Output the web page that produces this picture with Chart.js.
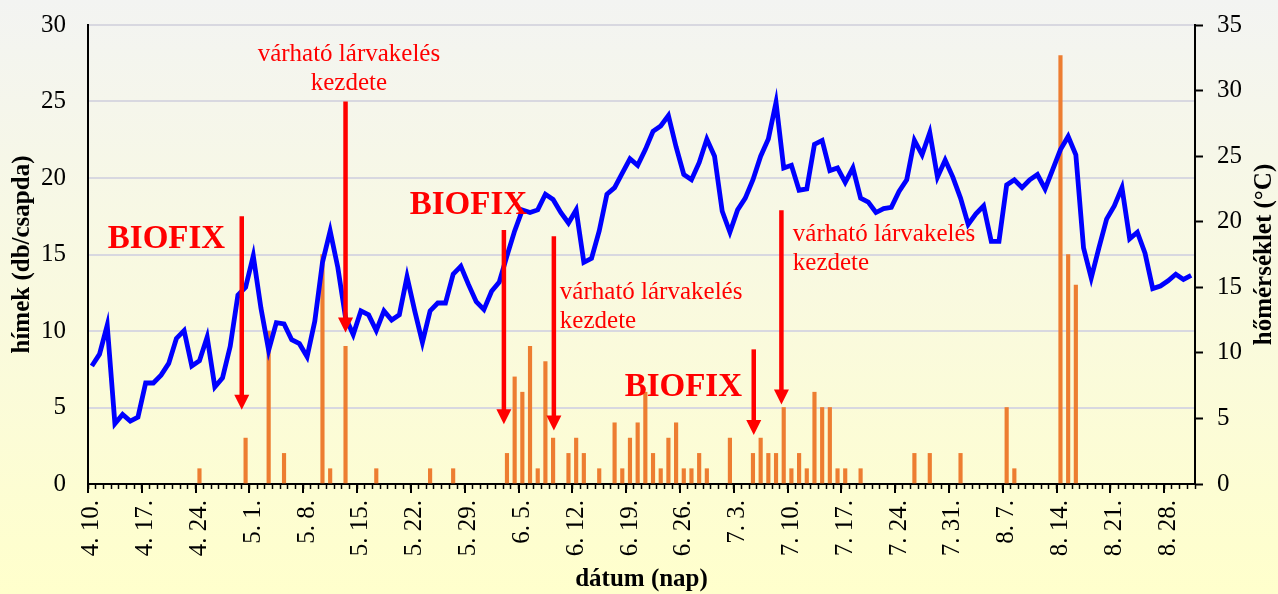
<!DOCTYPE html>
<html>
<head>
<meta charset="utf-8">
<script src="https://cdn.jsdelivr.net/npm/chart.js@4.4.1/dist/chart.umd.min.js"></script>
<style>
html,body{margin:0;padding:0;background:#FAFAE2;overflow:hidden}
#wrap{width:1278px;height:594px;position:relative}
</style>
</head>
<body>
<div id="wrap"><canvas id="c" width="1278" height="594"></canvas></div>
<script>
// ---- categories: daily dates 4.10 – 8.31 ----
const months = [4, 5, 6, 7, 8];
const firstDay = [10, 1, 1, 1, 1];
const lastDay = [30, 31, 30, 31, 31];
const dates = [];
months.forEach((m, k) => { for (let d = firstDay[k]; d <= lastDay[k]; d++) dates.push(m + '. ' + d + '.'); });
const labelEvery = 7;

// ---- male moth catches (left axis, db/csapda) ----
const catchDays = ['4. 24.','4. 30.','5. 3.','5. 5.','5. 10.','5. 11.','5. 13.','5. 17.','5. 24.','5. 27.',
  '6. 3.','6. 4.','6. 5.','6. 6.','6. 7.','6. 8.','6. 9.','6. 11.','6. 12.','6. 13.','6. 15.','6. 17.','6. 18.',
  '6. 19.','6. 20.','6. 21.','6. 22.','6. 23.','6. 24.','6. 25.','6. 26.','6. 27.','6. 28.','6. 29.','7. 2.',
  '7. 5.','7. 6.','7. 7.','7. 8.','7. 9.','7. 10.','7. 11.','7. 12.','7. 13.','7. 14.','7. 15.','7. 16.','7. 17.',
  '7. 19.','7. 26.','7. 28.','8. 1.','8. 7.','8. 8.','8. 14.','8. 15.','8. 16.'];
const catchCounts = [1,3,10,2,15,1,9,1,1,1,
  2,7,6,9,1,8,3,2,3,2,1,4,1,
  3,4,6,2,1,3,4,1,1,2,1,3,
  2,3,2,2,5,1,2,1,6,5,5,1,1,
  1,2,2,2,5,1,28,15,13];

// ---- daily mean temperature (right axis, °C) ----
const temperature = [
  9.0, 9.9, 12.1, 4.6, 5.3, 4.8, 5.1, 7.7, 7.7, 8.3, 9.2, 11.1, 11.7, 9.0, 9.4, 11.2, 7.4, 8.1, 10.5, 14.4,
  15.0, 17.4, 13.4, 10.2, 12.3, 12.2, 11.0, 10.7, 9.7, 12.4, 16.9, 19.3, 16.5, 12.7, 11.4, 13.2, 12.9, 11.7, 13.2, 12.5,
  12.9, 15.8, 13.2, 10.8, 13.2, 13.8, 13.8, 16.0, 16.6, 15.2, 13.9, 13.3, 14.7, 15.4, 17.4, 19.3, 20.9, 20.7, 20.9, 22.1,
  21.7, 20.7, 19.9, 20.9, 16.9, 17.2, 19.3, 22.1, 22.6, 23.7, 24.8, 24.3, 25.5, 26.9, 27.3, 28.1, 25.7, 23.6, 23.2, 24.5,
  26.3, 25.0, 20.8, 19.2, 20.9, 21.8, 23.2, 25.0, 26.3, 29.1, 24.1, 24.3, 22.4, 22.5, 25.9, 26.2, 23.9, 24.1, 23.0, 24.1,
  21.8, 21.5, 20.7, 21.0, 21.1, 22.3, 23.2, 26.2, 25.1, 26.8, 23.4, 24.7, 23.4, 21.8, 19.8, 20.6, 21.2, 18.5, 18.5, 22.8,
  23.2, 22.6, 23.2, 23.6, 22.5, 24.0, 25.5, 26.5, 25.1, 18.0, 15.7, 18.0, 20.2, 21.2, 22.6, 18.7, 19.2, 17.6, 14.9, 15.1,
  15.5, 16.0, 15.6, 15.9];

// ---- axis ranges ----
const leftMax = 30, rightMax = 35, tickStep = 5;

// ---- annotations (x = day index, y = left-axis value) ----
const arrowDay = [19.5, 33.0, 53.6, 60.1, 86.1, 89.7];
const arrowFrom = [17.5, 25.0, 16.6, 16.2, 8.8, 17.9];
const arrowTo = [4.85, 9.9, 3.9, 3.5, 3.2, 5.2];
const biofixText = 'BIOFIX';
const biofixDay = [9.71, 48.98, 76.94];
const biofixVal = [15.44, 17.62, 5.72];
const larvaLines = ['várható lárvakelés', 'kezdete'];
const larvaDay = [33.44, 60.88, 91.18];
const larvaVal = [27.66, 12.1, 15.87];
const larvaAlign = ['center', 'left', 'left'];

const catchSeries = dates.map(d => { const k = catchDays.indexOf(d); return k >= 0 ? catchCounts[k] : null; });

const SERIF = "'Liberation Serif', 'Times New Roman', serif";

const bgPlugin = {
  id: 'bg',
  beforeDraw(chart) {
    const { ctx, width, height } = chart;
    const g = ctx.createLinearGradient(0, 0, 0, height);
    g.addColorStop(0, '#F3F4F2');
    g.addColorStop(1, '#FFFFCC');
    ctx.save(); ctx.fillStyle = g; ctx.fillRect(0, 0, width, height); ctx.restore();
  }
};

const extrasPlugin = {
  id: 'extras',
  afterDatasetsDraw(chart) {
    const ctx = chart.ctx, xs = chart.scales.x, ys = chart.scales.y, ca = chart.chartArea;
    ctx.save();
    // major ticks on the date axis
    ctx.strokeStyle = '#000'; ctx.lineWidth = 2;
    for (let i = 0; i < dates.length; i += labelEvery) {
      const px = Math.round(xs.getPixelForValue(i - 0.5));
      ctx.beginPath(); ctx.moveTo(px, ca.bottom); ctx.lineTo(px, ca.bottom + 9); ctx.stroke();
    }
    // arrows
    ctx.strokeStyle = '#FF0000'; ctx.fillStyle = '#FF0000'; ctx.lineWidth = 4.5;
    const head = 15, half = 7.5;
    arrowDay.forEach((d, k) => {
      const px = xs.getPixelForValue(d);
      const y0 = ys.getPixelForValue(arrowFrom[k]);
      const y1 = ys.getPixelForValue(arrowTo[k]);
      ctx.beginPath(); ctx.moveTo(px, y0); ctx.lineTo(px, y1 - head + 1); ctx.stroke();
      ctx.beginPath(); ctx.moveTo(px - half, y1 - head); ctx.lineTo(px + half, y1 - head); ctx.lineTo(px, y1); ctx.closePath(); ctx.fill();
    });
    // BIOFIX labels
    ctx.textBaseline = 'alphabetic'; ctx.textAlign = 'center';
    ctx.font = 'bold 33px ' + SERIF;
    biofixDay.forEach((d, k) => ctx.fillText(biofixText, xs.getPixelForValue(d), ys.getPixelForValue(biofixVal[k])));
    // larva labels
    ctx.font = '25px ' + SERIF;
    larvaDay.forEach((d, k) => {
      ctx.textAlign = larvaAlign[k];
      const px = xs.getPixelForValue(d), py = ys.getPixelForValue(larvaVal[k]);
      larvaLines.forEach((t, j) => ctx.fillText(t, px, py + j * 29));
    });
    ctx.restore();
  },
  afterDraw(chart) {
    const ctx = chart.ctx, ca = chart.chartArea;
    ctx.save();
    ctx.font = 'bold 25px ' + SERIF; ctx.fillStyle = '#000';
    ctx.textAlign = 'center'; ctx.textBaseline = 'middle';
    ctx.translate(1265, (ca.top + ca.bottom) / 2);
    ctx.rotate(-Math.PI / 2);
    ctx.fillText('hőmérséklet (°C)', 0, 0);
    ctx.restore();
  }
};

const tickFont = { family: SERIF, size: 25 };
const titleFont = { family: SERIF, size: 25, weight: 'bold', lineHeight: 1 };

new Chart(document.getElementById('c'), {
  data: {
    labels: dates,
    datasets: [
      { type: 'line', label: 'hőmérséklet', data: temperature, yAxisID: 'y1', borderColor: '#0000FF', borderWidth: 4.8, pointRadius: 0, tension: 0, order: 0 },
      { type: 'bar', label: 'hímek', data: catchSeries, yAxisID: 'y', backgroundColor: '#ED7D31', barThickness: 3.5, order: 1 }
    ]
  },
  options: {
    responsive: false, animation: false, devicePixelRatio: 1,
    layout: { padding: { top: 25, left: 0, right: 0, bottom: 0 } },
    plugins: { legend: { display: false }, tooltip: { enabled: false } },
    scales: {
      x: {
        type: 'category', offset: true,
        grid: { display: true, offset: true, drawOnChartArea: false, drawTicks: true, tickLength: 5, tickWidth: 1.5, tickColor: '#000' },
        border: { display: true, color: '#000', width: 2 },
        ticks: { autoSkip: false, minRotation: 90, maxRotation: 90, padding: 11, font: tickFont, color: '#000',
          callback: (v, i) => (i % labelEvery === 0 ? dates[i] : '') },
        title: { display: true, text: 'dátum (nap)', font: titleFont, color: '#000', padding: { top: 0, bottom: 1.5 } },
        afterFit: s => { s.height = 110; s.paddingLeft = 0; s.paddingRight = 0; }
      },
      y: {
        position: 'left', min: 0, max: leftMax,
        ticks: { stepSize: tickStep, padding: 22, font: tickFont, color: '#000' },
        grid: { color: '#D8D8E0', lineWidth: 2, drawTicks: false },
        border: { display: true, color: '#000', width: 2 },
        title: { display: true, text: 'hímek (db/csapda)', font: titleFont, color: '#000', padding: { top: 10, bottom: 0 } },
        afterFit: s => { s.width = 88; s.paddingTop = 0; s.paddingBottom = 0; }
      },
      y1: {
        position: 'right', min: 0, max: rightMax,
        ticks: { stepSize: tickStep, padding: 14, font: tickFont, color: '#000' },
        grid: { drawOnChartArea: false, drawTicks: true, tickLength: 8, tickColor: '#000', tickWidth: 2 },
        border: { display: true, color: '#000', width: 2 },
        title: { display: false },
        afterFit: s => { s.width = 83; s.paddingTop = 0; s.paddingBottom = 0; }
      }
    }
  },
  plugins: [bgPlugin, extrasPlugin]
});
</script>
</body>
</html>
